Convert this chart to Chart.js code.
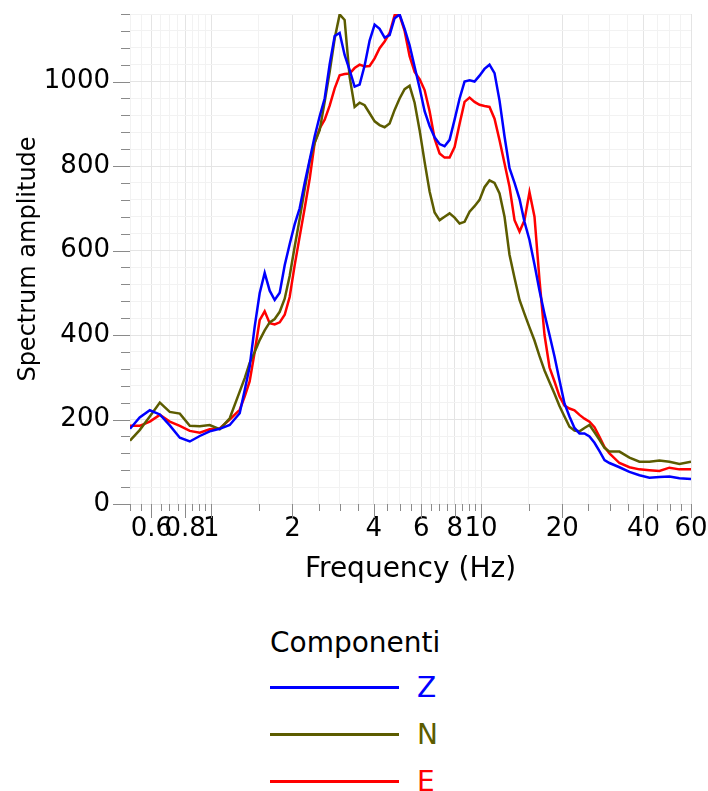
<!DOCTYPE html>
<html>
<head>
<meta charset="utf-8">
<script src="https://cdn.jsdelivr.net/npm/chart.js@4.4.0/dist/chart.umd.min.js"></script>
<style>
  html, body { margin: 0; padding: 0; background: #fff; }
  #wrap { position: relative; width: 708px; height: 791px; font-family: "DejaVu Sans", sans-serif; }
  #chart { position: absolute; left: 0; top: 0; }
  #legend { position: absolute; left: 270px; top: 621px; }
  #legend .title { font-size: 28px; line-height: 43px; color: #000; }
  #legend .item { display: flex; align-items: center; height: 47px; }
  #legend .swatch { width: 129px; height: 3px; margin-right: 18px; }
  #legend .label { font-size: 28px; line-height: 47px; }
</style>
</head>
<body>
<div id="wrap">
  <canvas id="chart" width="708" height="600"></canvas>
  <div id="legend"></div>
</div>
<script>
// frequency (Hz)
const freqs = [
  0.5, 0.543, 0.592, 0.645, 0.702, 0.765, 0.833, 0.907, 0.987, 1.075,
  1.171, 1.275, 1.331, 1.388, 1.449, 1.512, 1.578, 1.647, 1.719, 1.794,
  1.872, 1.953, 2.038, 2.127, 2.220, 2.317, 2.417, 2.523, 2.633, 2.748,
  2.868, 2.992, 3.122, 3.258, 3.400, 3.548, 3.703, 3.864, 4.033, 4.208,
  4.392, 4.583, 4.783, 4.991, 5.209, 5.436, 5.673, 5.920, 6.178, 6.447,
  6.728, 7.021, 7.327, 7.646, 7.980, 8.328, 8.688, 9.067, 9.461, 9.872,
  10.30, 10.75, 11.22, 11.71, 12.22, 12.75, 13.31, 13.89, 14.49, 15.12,
  15.78, 16.47, 17.19, 17.94, 18.72, 19.53, 20.38, 21.27, 22.20, 23.17,
  24.17, 25.23, 26.33, 27.48, 28.68, 29.92, 32.58, 35.48, 38.64, 42.08,
  45.83, 49.91, 54.36, 60
];

const zVals = [
  178, 205, 222, 212, 186, 157, 148, 161, 172, 178,
  187, 215, 270, 325, 420, 499, 547, 505, 483, 500,
  565, 615, 662, 700, 760, 815, 870, 918, 960, 1041,
  1108, 1115, 1063, 1027, 988, 993, 1038, 1097, 1135, 1125,
  1104, 1110, 1150, 1159, 1125, 1086, 1035, 985, 930, 895,
  868, 852, 847, 862, 910, 960, 1000, 1003, 1000, 1014,
  1030, 1040, 1020, 955, 870, 795, 760, 722, 668, 625,
  567, 505, 450, 400, 349, 293, 238, 207, 180, 167,
  167, 160, 145, 125, 104, 97, 87, 76, 68, 62,
  64, 65, 61, 59
];

const nVals = [
  150, 175, 207, 240, 218, 214, 185, 184, 187, 177,
  203, 266, 298, 334, 360, 388, 411, 430, 438, 455,
  486, 540, 609, 675, 745, 812, 855, 885, 952, 1023,
  1102, 1159, 1146, 1011, 940, 950, 944, 925, 906, 897,
  892, 901, 933, 960, 982, 990, 950, 885, 810, 740,
  690, 672, 680, 688, 678, 664, 668, 692, 705, 720,
  750, 766, 760, 735, 680, 590, 535, 483, 450, 418,
  387, 350, 316, 288, 261, 232, 207, 183, 174, 172,
  180, 187, 170, 152, 133, 124, 124, 110, 100, 100,
  103, 100, 95, 100
];

const eVals = [
  185, 185, 195, 211, 195, 185, 173, 169, 177, 179,
  200, 223, 255, 290, 360, 435, 456, 428, 425, 430,
  448, 490, 565, 633, 700, 770, 855, 889, 910, 943,
  984, 1015, 1018, 1019, 1032, 1040, 1036, 1037, 1055, 1079,
  1095, 1115, 1157, 1157, 1120, 1060, 1023, 1006, 980, 930,
  865, 830, 820, 820, 845, 900, 952, 962, 952, 945,
  942, 940, 912, 861, 806, 751, 672, 645, 672, 738,
  680, 530, 400, 323, 290, 255, 233, 226, 222, 211,
  202, 195, 182, 159, 135, 120, 97, 87, 82, 80,
  78, 86, 82, 82
];

const seriesNames = ["Z", "N", "E"];
const seriesColors = ["#0000ff", "#5c5c00", "#ff0000"];
const legendTitle = "Componenti";

// x ticks: every one gets a grid line, only these get a label
const xTickValues = [
  0.5, 0.55, 0.6, 0.65, 0.7, 0.75, 0.8, 0.85, 0.9, 0.95,
  1, 1.5, 2, 2.5, 3, 3.5, 4, 4.5, 5, 5.5, 6, 6.5, 7, 7.5, 8, 8.5, 9, 9.5,
  10, 15, 20, 25, 30, 35, 40, 45, 50, 55, 60
];
const xTickLabels = [0.6, 0.8, 1, 2, 4, 6, 8, 10, 20, 40, 60];

const yTickLabels = [0, 200, 400, 600, 800, 1000];
const yMinorStep = 40;
const yMax = 1160;

const FONT = "'DejaVu Sans', sans-serif";

const isXMajor = (v) => xTickLabels.includes(v);
const isYMajor = (v) => yTickLabels.includes(v);

// tick marks outside the plot, long for labelled ticks
const tickMarks = {
	id: "tickMarks",
	afterDraw(chart) {
		const { ctx, scales } = chart;
		const xs = scales.x, ys = scales.y;
		ctx.save();
		ctx.strokeStyle = "#8a8a8a";
		ctx.lineWidth = 1;
		ctx.beginPath();
		xs.ticks.forEach((t) => {
			const px = Math.round(xs.getPixelForValue(t.value)) + 0.5;
			const len = isXMajor(t.value) ? 14 : 7;
			ctx.moveTo(px, ys.bottom);
			ctx.lineTo(px, ys.bottom + len);
		});
		ys.ticks.forEach((t) => {
			const py = Math.round(ys.getPixelForValue(t.value)) + 0.5;
			const len = isYMajor(t.value) ? 17 : 9;
			ctx.moveTo(xs.left - len, py);
			ctx.lineTo(xs.left, py);
		});
		ctx.stroke();
		ctx.restore();
	},
};

// legend below the plot, as html
const htmlLegend = {
	id: "htmlLegend",
	afterUpdate(chart) {
		const box = document.getElementById("legend");
		box.innerHTML = "";
		const title = document.createElement("div");
		title.className = "title";
		title.textContent = legendTitle;
		box.appendChild(title);
		chart.data.datasets.forEach((ds) => {
			const item = document.createElement("div");
			item.className = "item";
			const sw = document.createElement("span");
			sw.className = "swatch";
			sw.style.background = ds.borderColor;
			const lab = document.createElement("span");
			lab.className = "label";
			lab.style.color = ds.borderColor;
			lab.textContent = ds.label;
			item.appendChild(sw);
			item.appendChild(lab);
			box.appendChild(item);
		});
	},
};

const allVals = [zVals, nVals, eVals];
const datasets = seriesNames.map((name, i) => ({
	label: name,
	data: freqs.map((f, j) => ({ x: f, y: allVals[i][j] })),
	borderColor: seriesColors[i],
	backgroundColor: seriesColors[i],
	borderWidth: 2.5,
	pointRadius: 0,
	tension: 0,
	fill: false,
}));

new Chart(document.getElementById("chart").getContext("2d"), {
	type: "line",
	data: { datasets: datasets },
	options: {
		responsive: false,
		animation: false,
		devicePixelRatio: 1,
		layout: { padding: { top: 14, right: 17, bottom: 0, left: 0 } },
		plugins: {
			legend: { display: false },
			tooltip: { enabled: false },
		},
		scales: {
			x: {
				type: "logarithmic",
				min: 0.5,
				max: 60,
				afterBuildTicks: (s) => {
					s.ticks = xTickValues.map((v) => ({ value: v }));
				},
				afterFit: (s) => {
					s.height = 96;
					s.paddingLeft = 0;
					s.paddingRight = 0;
				},
				ticks: {
					autoSkip: false,
					maxRotation: 0,
					minRotation: 0,
					padding: 10,
					color: "#000",
					font: { family: FONT, size: 26 },
					callback: (v) => (isXMajor(v) ? String(v) : ""),
				},
				grid: {
					drawTicks: false,
					color: (c) => (c.tick && isXMajor(c.tick.value) ? "#e4e4e4" : "#f2f2f2"),
				},
				border: { display: false },
				title: {
					display: true,
					text: "Frequency (Hz)",
					color: "#000",
					font: { family: FONT, size: 28 },
					padding: { top: 0, bottom: 13 },
				},
			},
			y: {
				min: 0,
				max: yMax,
				afterBuildTicks: (s) => {
					let t = [];
					for (let v = 0; v <= yMax; v += yMinorStep) t.push({ value: v });
					s.ticks = t;
				},
				afterFit: (s) => {
					s.width = 130;
					s.paddingTop = 0;
					s.paddingBottom = 0;
				},
				ticks: {
					autoSkip: false,
					padding: 20,
					color: "#000",
					font: { family: FONT, size: 26 },
					callback: (v) => (isYMajor(v) ? String(v) : ""),
				},
				grid: {
					drawTicks: false,
					color: (c) => (c.tick && isYMajor(c.tick.value) ? "#e4e4e4" : "#f2f2f2"),
				},
				border: { display: false },
				title: {
					display: true,
					text: "Spectrum amplitude",
					color: "#000",
					font: { family: FONT, size: 24 },
					padding: { top: 14, bottom: 0 },
				},
			},
		},
	},
	plugins: [tickMarks, htmlLegend],
});
</script>
</body>
</html>
